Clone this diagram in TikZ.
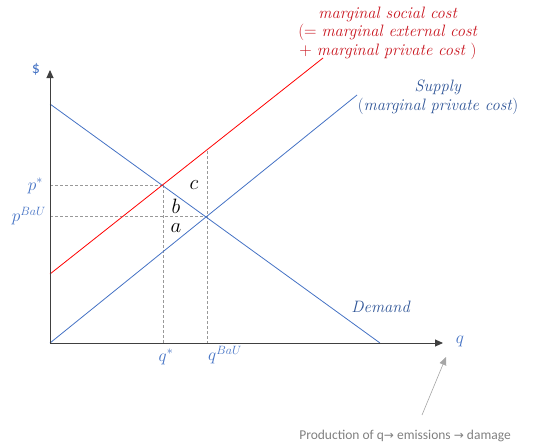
\documentclass[tikz,border=0pt]{standalone}
\usepackage{fontspec}
\newfontfamily\carl{Carlito}
\newfontfamily\dejav{DejaVu Sans}
\usetikzlibrary{arrows.meta}
\definecolor{lblue}{RGB}{68,114,196}
\definecolor{dblue}{RGB}{47,85,151}
\definecolor{mscred}{RGB}{255,0,0}
\definecolor{txtred}{RGB}{200,20,30}
\definecolor{axisgray}{RGB}{64,64,64}
\tikzset{
  axis/.style={draw=axisgray, line width=0.9pt, -{Triangle[length=8pt,width=7pt]}},
  curve/.style={line width=0.8pt},
  guide/.style={draw=gray!80, dash pattern=on 3pt off 2pt, line width=0.6pt},
  lbl/.style={font=\fontsize{16.5}{19}\selectfont, inner sep=0pt},
  mlbl/.style={text=lblue, font=\fontsize{17}{19}\selectfont, inner sep=0pt},
  abc/.style={font=\fontsize{20}{22}\selectfont, inner sep=0pt},
}
\begin{document}
\begin{tikzpicture}[x=1pt,y=-1pt]
\useasboundingbox (0,0) rectangle (534,444);
% coordinates
\coordinate (O) at (50,343);
\coordinate (Ytip) at (50,70);
\coordinate (Xtip) at (443,343);
\coordinate (D1) at (50,104);
\coordinate (D2) at (380,343);
\coordinate (S1) at (50,343);
\coordinate (S2) at (357,95);
\coordinate (M1) at (50,274);
\coordinate (M2) at (323,58);
\coordinate (Estar) at (163,185);
\coordinate (EBau) at (207,216);
\coordinate (Mbau) at (207,151);
\coordinate (Pstar) at (50,185);
\coordinate (PBau) at (50,216);
\coordinate (Qstar) at (163,343);
\coordinate (QBau) at (207,343);
% guides
\draw[guide] (Pstar) -- (Estar);
\draw[guide] (PBau) -- (EBau);
\draw[guide] (Estar) -- (Qstar);
\draw[guide] (Mbau) -- (QBau);
% curves
\draw[curve, draw=lblue] (D1) -- (D2);
\draw[curve, draw=lblue] (S1) -- (S2);
\draw[curve, draw=mscred] (M1) -- (M2);
% axes
\draw[axis] (O) -- (Ytip);
\draw[axis] (O) -- (Xtip);
% labels
\node[mlbl] (dollar) at (36,69) {\carl\fontsize{16}{18}\selectfont \$};
\node[mlbl] (qax) at (460,341) {$q$};
\node[mlbl, anchor=east] (pst) at (43,186) {$p^{*}$};
\node[mlbl, anchor=east] (pbau) at (46,216) {$p^{BaU}$};
\node[mlbl] (qst) at (166,357) {$q^{*}$};
\node[mlbl] (qbau) at (225,355) {$q^{BaU}$};
\node[abc] (c) at (194,185) {$c$};
\node[abc] (b) at (176,206) {$b$};
\node[abc] (a) at (176,228) {$a$};
\node[lbl, text=dblue] (dem) at (381,307) {\textit{Demand}};
\node[lbl, text=dblue, align=center] (sup) at (438,97) {\textit{Supply}\\(\textit{marginal private cost})};
\node[lbl, text=txtred, align=center, font=\fontsize{16.5}{18.5}\selectfont] (msc) at (388,33) {\textit{marginal social cost}\\($=$ \textit{marginal external cost}\\$+$ \textit{marginal private cost} )};
% note
\node[inner sep=0pt, text=gray, font=\carl\fontsize{13.5}{15}\selectfont] (note) at (405,436) {Production of q{\dejav\fontsize{12}{14}\selectfont →} emissions {\dejav\fontsize{12}{14}\selectfont →} damage};
\coordinate (ns) at (422,415);
\coordinate (ne) at (446,357);
\draw[draw=gray!70, line width=0.6pt, -{Triangle[length=8pt,width=7pt]}] (ns) -- (ne);
\end{tikzpicture}
\end{document}
